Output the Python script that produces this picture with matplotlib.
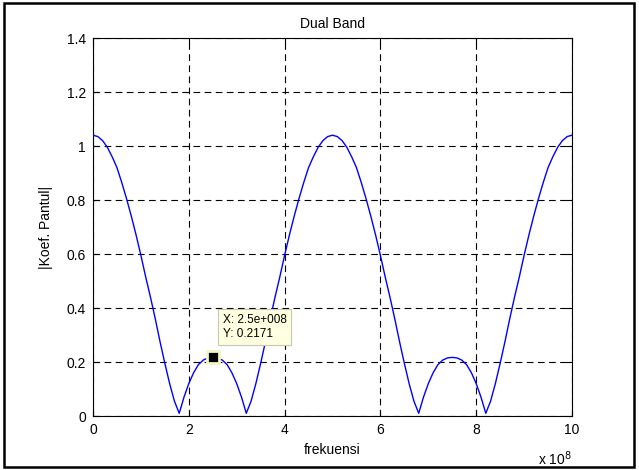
import numpy as np
import matplotlib
matplotlib.use("Agg")
import matplotlib.pyplot as plt
from matplotlib.patches import Rectangle

plt.rcParams['font.family'] = ['Liberation Sans', 'DejaVu Sans']

# Frequency sweep 0 .. 1 GHz, 10 MHz step
freq_hz = np.linspace(0, 1e9, 101)

# Reflection coefficient magnitude |Gamma| over the sweep
gamma_mag = [
    1.040, 1.035, 1.020, 0.995, 0.960, 0.920, 0.865, 0.805, 0.740, 0.670,
    0.595, 0.515, 0.440, 0.360, 0.275, 0.195, 0.120, 0.055, 0.010, 0.070,
    0.120, 0.160, 0.190, 0.207, 0.215, 0.2171, 0.215, 0.207, 0.190, 0.160,
    0.120, 0.070, 0.010, 0.055, 0.120, 0.195, 0.275, 0.360, 0.440, 0.515,
    0.595, 0.670, 0.740, 0.805, 0.865, 0.920, 0.960, 0.995, 1.020, 1.035,
    1.040, 1.035, 1.020, 0.995, 0.960, 0.920, 0.865, 0.805, 0.740, 0.670,
    0.595, 0.515, 0.440, 0.360, 0.275, 0.195, 0.120, 0.055, 0.010, 0.070,
    0.120, 0.160, 0.190, 0.207, 0.215, 0.2171, 0.215, 0.207, 0.190, 0.160,
    0.120, 0.070, 0.010, 0.055, 0.120, 0.195, 0.275, 0.360, 0.440, 0.515,
    0.595, 0.670, 0.740, 0.805, 0.865, 0.920, 0.960, 0.995, 1.020, 1.035,
    1.040,
]

tip_x = 2.5e8
tip_y = 0.2171

x_ticks = [0, 2e8, 4e8, 6e8, 8e8, 10e8]
x_tick_labels = ['0', '2', '4', '6', '8', '10']
y_ticks = [0, 0.2, 0.4, 0.6, 0.8, 1.0, 1.2, 1.4]
y_tick_labels = ['0', '0.2', '0.4', '0.6', '0.8', '1', '1.2', '1.4']

fig = plt.figure(figsize=(6.39, 4.70), dpi=100)
ax = fig.add_axes([93 / 639, 1 - 416 / 470, (572 - 93) / 639, (416 - 38) / 470])

ax.plot(freq_hz, gamma_mag, color='#0000ff', lw=1.0, zorder=3)

ax.set_xlim(0, 1e9)
ax.set_ylim(0, 1.4)
ax.set_xticks(x_ticks)
ax.set_xticklabels(x_tick_labels)
ax.set_yticks(y_ticks)
ax.set_yticklabels(y_tick_labels)

ax.grid(True, color='black', linestyle=(0, (6, 4)), linewidth=0.8)
ax.tick_params(direction='in', length=4, width=0.8, top=True, right=True,
               labelsize=10, pad=5, colors='black')
for s in ax.spines.values():
    s.set_linewidth(0.8)
    s.set_color('black')

ax.set_title('Dual Band', fontsize=10, pad=7)
ax.set_xlabel('frekuensi', fontsize=10, labelpad=4)
ax.set_ylabel('|Koef. Pantul|', fontsize=10, labelpad=10)

# Exponent multiplier for the frequency axis
fig.text(555 / 639, 1 - 459 / 470, r'x 10$^{8}$', fontsize=10,
         ha='center', va='center')

# Data tip at the in-band ripple maximum
ax.plot([tip_x], [tip_y], marker='s', markersize=8, color='black',
        markeredgecolor='#f4f4c4', markeredgewidth=2, zorder=5)
ax.annotate('X: 2.5e+008\nY: 0.2171', xy=(tip_x, tip_y),
            xytext=(10, 17), textcoords='offset pixels',
            ha='left', va='bottom', fontsize=8.5, linespacing=1.3,
            bbox=dict(boxstyle='square,pad=0.4', fc='#ffffe1', ec='#c8c8b0', lw=0.8),
            zorder=6)

# Outer frame around the whole figure
fig.patches.append(Rectangle((4 / 639, 3 / 470), 630 / 639, 464 / 470,
                             transform=fig.transFigure, fill=False,
                             edgecolor='black', linewidth=1.8))

fig.savefig('out.png', dpi=100)
